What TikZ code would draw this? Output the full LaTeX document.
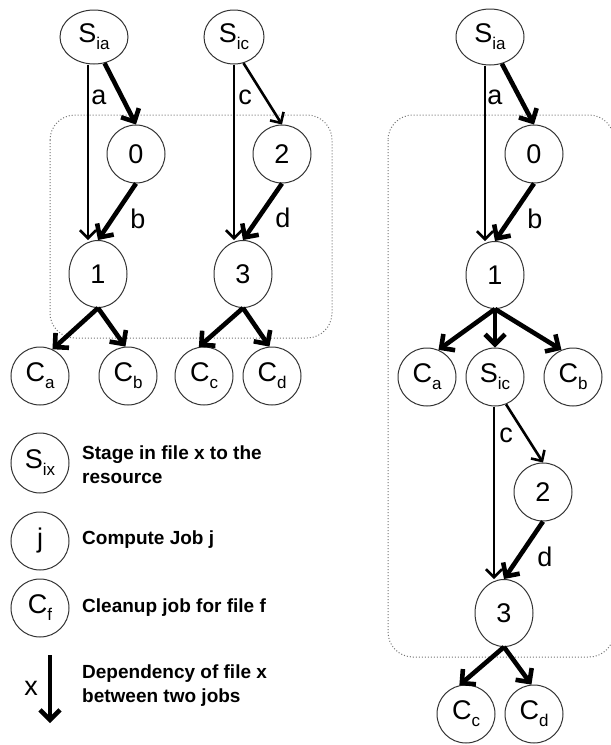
\documentclass[tikz,border=0pt]{standalone}
\usepackage{fontspec}
\setmainfont{Liberation Sans}
\usetikzlibrary{shapes.geometric,arrows.meta}
\newcommand{\sbs}[1]{\raisebox{-7pt}{\fontsize{17}{17}\selectfont #1}}
\tikzset{
  job/.style={draw=black!80,line width=1pt,ellipse,minimum width=58,minimum height=58,inner sep=0pt,font=\fontsize{27}{30}\selectfont},
  tall/.style={job,minimum height=67},
  lbl/.style={font=\fontsize{27}{30}\selectfont,inner sep=0pt},
  dep/.style={-{Straight Barb[length=8pt,width=16pt]},line width=2.6pt},
  bigdep/.style={-{Straight Barb[length=10pt,width=20pt]},line width=4.6pt},
  legtext/.style={font=\fontsize{19}{24}\selectfont\bfseries,align=left,anchor=west,inner sep=0pt},
  group/.style={draw=black!55,dotted,line width=1pt,rounded corners=25pt}
}
\begin{document}
\begin{tikzpicture}[x=1pt,y=-1pt]
      \useasboundingbox (0,0) rectangle (611,745);
      \draw[group] (50,115) rectangle (332,338);
      \draw[group] (388,115) rectangle (614,657);
      \node[job,minimum width=68,minimum height=54] (Sia) at (94,37) {S\sbs{ia}};
      \node[job,minimum width=60,minimum height=54] (Sic) at (234,37) {S\sbs{ic}};
      \node[job] (n0) at (136,154) {0};
      \node[job] (n2) at (282,154) {2};
      \node[tall] (n1) at (98,274) {1};
      \node[tall] (n3) at (243,274) {3};
      \node[job] (Ca) at (40,376) {C\sbs{a}};
      \node[job] (Cb) at (128,376) {C\sbs{b}};
      \node[job] (Cc) at (204,376) {C\sbs{c}};
      \node[job] (Cd) at (272,376) {C\sbs{d}};
      \node[job,minimum width=68,minimum height=56] (rSia) at (490,37) {S\sbs{ia}};
      \node[job] (r0) at (534,154) {0};
      \node[tall] (r1) at (495,275) {1};
      \node[job] (rCa) at (427,377) {C\sbs{a}};
      \node[job] (rSic) at (495,377) {S\sbs{ic}};
      \node[job] (rCb) at (573,377) {C\sbs{b}};
      \node[job] (r2) at (543,492) {2};
      \node[tall] (r3) at (504,613) {3};
      \node[job] (rCc) at (466,714) {C\sbs{c}};
      \node[job] (rCd) at (534,714) {C\sbs{d}};
      \node[lbl] (la) at (99,97) {a};
      \node[lbl] (lb) at (138,219) {b};
      \node[lbl] (lc) at (245,97) {c};
      \node[lbl] (ld) at (283,218) {d};
      \node[lbl] (rla) at (495,97) {a};
      \node[lbl] (rlb) at (535,219) {b};
      \node[lbl] (rlc) at (506,435) {c};
      \node[lbl] (rld) at (545,557) {d};
      \begin{scope}[dep]
        \draw ([xshift=-6]Sia.south) to ([xshift=-10]n1.north);
        \draw ([xshift=0]Sic.south) to ([xshift=-9]n3.north);
        \draw (Sic.-70) to (n2.north);
        \draw ([xshift=-5]rSia.south) to ([xshift=-10]r1.north);
        \draw ([xshift=-1]rSic.south) to ([xshift=-10]r3.north);
        \draw (rSic.-68) to (r2.north);
      \end{scope}
      \begin{scope}[bigdep]
        \draw (Sia.-68) to (n0.north);
        \draw (n0.south) to (n1.north);
        \draw (n2.south) to (n3.north);
        \draw (n1.south) to (Ca.65);
        \draw (n1.south) to (Cb.95);
        \draw (n3.south) to (Cc.100);
        \draw (n3.south) to (Cd.95);
        \draw (rSia.-66) to (r0.north);
        \draw (r0.south) to (r1.north);
        \draw (r1.south) to (rCa.67);
        \draw (r1.south) to (rSic.north);
        \draw (r1.south) to (rCb.113);
        \draw (r2.south) to (r3.north);
        \draw (r3.south) to (rCc.103);
        \draw (r3.south) to (rCd.95);
      \end{scope}
      \node[job,minimum height=60] (Six) at (40,463) {S\sbs{ix}};
      \node[job] (jj) at (40,541) {j};
      \node[job] (Cf) at (40,608) {C\sbs{f}};
      \node[legtext] (tSix) at (82,465) {Stage in file x to the\\resource};
      \node[legtext] (tj) at (82,540) {Compute Job j};
      \node[legtext] (tCf) at (82,608) {Cleanup job for file f};
      \coordinate (xtop) at (50,655);
      \coordinate (xbot) at (50,723);
      \draw[bigdep] (xtop) to (xbot);
      \node[lbl] (lx) at (31,688) {x};
      \node[legtext] (tx) at (82,686) {Dependency of file x\\between two jobs};
    \end{tikzpicture}
\end{document}
